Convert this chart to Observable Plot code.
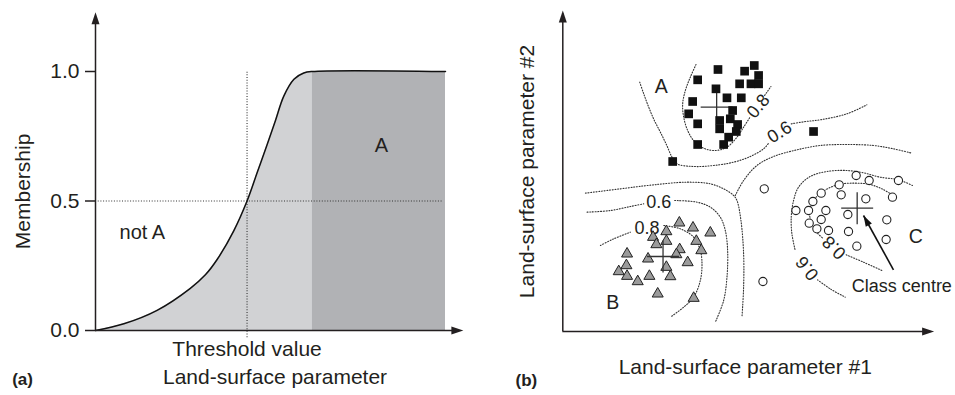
<!DOCTYPE html>
<html><head><meta charset="utf-8">
<script src="https://cdn.jsdelivr.net/npm/d3@7"></script>
<script src="https://cdn.jsdelivr.net/npm/@observablehq/plot@0.6"></script>
<style>
body{margin:0;background:#fff;}
#wrap{display:flex;width:955px;height:395px;overflow:hidden;}
#wrap svg{display:block;flex:none;}
</style></head><body><div id="wrap"></div>
<script>
// ---------- Panel (a): fuzzy membership function ----------
const membershipX = [0, 0.81, 1.76, 2.71, 3.14, 3.48, 3.95, 4.33, 4.62, 4.91, 5.14, 5.38, 5.67, 5.95, 6.19, 10];
const membershipY = [0, 0.026, 0.078, 0.163, 0.215, 0.275, 0.385, 0.5, 0.61, 0.72, 0.81, 0.905, 0.97, 0.994, 1, 1];
const thresholdValue = 4.33;
const coreStart = 6.19;
const paramMax = 10;
const yTicks = [0, 0.5, 1.0];
const axisTipA = {x: 10.51, y: 1.229};

// ---------- Panel (b): classes in attribute space ----------
const classA = [[57.5,79.8],[46.6,78.6],[54.6,78.1],[58.8,76.8],[40.5,75.5],[53.1,74.3],[56.5,74.3],[58.8,74.3],[46.0,72.8],[49.3,70.1],[53.6,70.1],[39.0,69.0],[37.8,65.3],[51.0,66.3],[40.5,62.3],[47.1,63.3],[47.1,60.8],[50.3,63.8],[52.5,62.1],[52.1,60.0],[49.8,58.3],[40.5,56.1],[48.3,56.1],[33.0,51.0],[75.3,60.0]];
const classB = [[35.0,32.6],[39.1,31.1],[44.3,29.6],[31.1,30.0],[27.1,28.3],[31.1,27.1],[28.1,26.1],[40.1,27.1],[41.6,24.3],[35.1,24.6],[34.1,23.1],[19.3,23.3],[25.6,21.8],[19.1,19.8],[16.8,18.0],[19.3,16.6],[31.1,19.3],[37.5,20.7],[22.5,15.0],[26.0,16.6],[32.3,16.5],[28.5,11.3],[39.3,10.0]];
const classC = [[88.1,46.8],[92.0,45.3],[100.8,45.3],[83.0,44.0],[77.6,41.5],[83.6,41.0],[91.0,39.8],[99.0,40.3],[75.1,39.0],[70.0,36.3],[73.8,36.3],[79.0,36.3],[85.6,35.1],[77.6,33.6],[74.0,32.5],[76.3,30.8],[79.8,30.3],[85.8,30.0],[97.3,33.5],[97.1,27.6],[88.3,25.6],[60.5,42.8],[60.1,15.0]];
const classCentres = [{name:"A", x:46.2, y:67.3}, {name:"B", x:30.1, y:22.5}, {name:"C", x:88.4, y:37.0}];
const classLabels = [{text:"A", x:29.6, y:73.5}, {text:"B", x:15.0, y:8.5}, {text:"C", x:106.0, y:28.3}];

// contour segments (membership isolines), split where a label interrupts them
const contourA08a = [[40.0,80.1],[38.3,76.3],[36.8,72.3],[36.0,68.3],[36.3,64.3],[37.5,60.3],[39.3,57.3],[42.3,55.0],[45.8,54.3],[49.3,55.3],[52.3,58.3],[54.3,61.3],[56.1,64.1]];
const contourA08b = [[60.6,70.8],[62.5,73.5]];
const contourA06a = [[23.1,74.8],[24.3,71.3],[25.8,67.3],[27.5,63.3],[29.3,59.8],[31.1,56.1],[32.8,52.3],[34.3,50.3],[39.3,49.5],[45.3,49.8],[51.3,50.8],[56.3,52.5],[60.3,54.8],[61.9,56.6]];
const contourA06b = [[68.6,62.3],[73.0,63.0],[77.3,63.5],[85.3,65.3],[91.3,68.0]];
const boundaryNE = [[51.8,40.8],[54.3,45.3],[58.3,49.8],[63.3,52.5],[70.3,54.5],[77.3,55.8],[85.3,56.1],[93.3,55.8],[99.3,54.8],[104.8,53.5]];
const boundaryWS = [[6.8,41.5],[17.3,42.8],[27.3,44.0],[37.3,44.8],[44.3,44.3],[48.3,42.8],[51.3,40.8],[52.3,39.3],[53.5,33.3],[54.3,23.3],[54.3,13.3],[53.8,4.3]];
const contourB06a = [[7.3,35.8],[14.3,36.3],[20.3,37.5],[24.3,38.3]];
const contourB06b = [[33.6,39.3],[40.3,38.8],[44.3,37.3],[47.3,34.3],[48.8,30.3],[49.5,24.3],[49.3,16.3],[48.3,9.3],[45.8,2.8]];
const contourB08a = [[11.3,25.8],[15.3,27.8],[20.3,29.8]];
const contourB08b = [[30.3,31.8],[35.3,30.8],[39.3,28.3],[41.3,24.3],[41.8,20.3],[41.3,15.3],[39.3,10.3],[36.3,7.3],[32.3,4.3]];
const contourC08a = [[98.8,41.1],[95.8,42.8],[92.3,44.1],[88.3,44.5],[82.8,44.1],[78.3,42.1],[75.3,39.3],[74.1,35.8],[74.8,32.3],[76.5,29.5],[78.3,27.8]];
const contourC08b = [[85.1,23.0],[90.3,20.8],[95.8,18.3]];
const contourC06a = [[105.0,43.8],[100.8,45.5],[95.3,46.3],[90.3,47.6],[85.3,48.3],[79.3,48.0],[74.3,46.5],[70.8,43.3],[69.3,39.3],[68.6,34.3],[68.8,29.3],[69.8,24.3]];
const contourC06b = [[76.5,15.5],[80.3,12.8],[84.8,10.3]];
const contourLabels = [
  {text:"0.8", x:58.7, y:67.6, rotate:-50},
  {text:"0.6", x:65.1, y:59.8, rotate:-32},
  {text:"0.6", x:28.8, y:38.8, rotate:0},
  {text:"0.8", x:25.3, y:31.1, rotate:0},
  {text:"0.8", x:81.5, y:25.2, rotate:-135},
  {text:"0.6", x:73.4, y:19.0, rotate:-128}
];
const centreArrow = {x1:99.3, y1:18.5, x2:90.3, y2:34.8};
const axisTipB = {x: 111.5, y: 96.3};

// ---------- build ----------
const FONT = "'Liberation Sans', Arial, Helvetica, sans-serif";
const INK = "#231f20";
const arrowHead = {draw(ctx) { const L = 12, w = 8; ctx.moveTo(0, 0); ctx.lineTo(w / 2, L); ctx.lineTo(-w / 2, L); ctx.closePath(); }};
const smallHead = {draw(ctx) { const L = 11, w = 7; ctx.moveTo(0, 0); ctx.lineTo(w / 2, L); ctx.lineTo(-w / 2, L); ctx.closePath(); }};
const dotted = {stroke: "#333", strokeWidth: 1.1, strokeDasharray: "1,1.7"};

const curve = membershipX.map((x, i) => ({x, y: membershipY[i]}));
const rising = curve.filter(d => d.x <= coreStart);

const panelA = Plot.plot({
  width: 480, height: 395,
  marginLeft: 95, marginRight: 35, marginTop: 71, marginBottom: 65,
  x: {domain: [0, paramMax], axis: null},
  y: {domain: [0, 1]},
  style: {fontFamily: FONT, color: INK, background: "transparent", overflow: "visible"},
  marks: [
    Plot.areaY(rising, {x: "x", y: "y", fill: "#d1d2d4", curve: "catmull-rom"}),
    Plot.rect([{x1: coreStart, x2: paramMax, y1: 0, y2: 1}], {x1: "x1", x2: "x2", y1: "y1", y2: "y2", fill: "#b1b2b5"}),
    Plot.ruleX([thresholdValue], {y1: -0.028, y2: 1, ...dotted}),
    Plot.ruleY([0.5], {x1: 0, x2: 9.94, ...dotted}),
    Plot.line(curve, {x: "x", y: "y", stroke: "#111", strokeWidth: 1.5, curve: "catmull-rom"}),
    Plot.ruleX([0], {y1: 0, y2: axisTipA.y - 0.03, stroke: INK, strokeWidth: 1.5}),
    Plot.ruleY([0], {x1: 0, x2: axisTipA.x - 0.2, stroke: INK, strokeWidth: 1.5}),
    Plot.dot([axisTipA], {x: 0, y: "y", symbol: arrowHead, fill: INK, stroke: null}),
    Plot.dot([axisTipA], {x: "x", y: 0, symbol: arrowHead, rotate: 90, fill: INK, stroke: null}),
    Plot.axisY(yTicks, {tickFormat: d => d.toFixed(1), tickSize: 10, tickPadding: 6, fontSize: 21, strokeWidth: 1.5, label: null}),
    Plot.text(["Membership"], {x: -2.06, y: 0.537, rotate: -90, fontSize: 21}),
    Plot.text(["Threshold value"], {x: thresholdValue, y: 0, dy: 25, lineAnchor: "bottom", fontSize: 21}),
    Plot.text(["Land-surface parameter"], {x: 5.13, y: 0, dy: 53, lineAnchor: "bottom", fontSize: 21}),
    Plot.text(["not A"], {x: 1.34, y: 0.354, lineAnchor: "bottom", fontSize: 20}),
    Plot.text(["A"], {x: 8.17, y: 0.688, lineAnchor: "bottom", fontSize: 20}),
    Plot.text(["(a)"], {x: -2.38, y: 0, dy: 54, lineAnchor: "bottom", textAnchor: "start", fontSize: 17, fontWeight: "bold"})
  ]
});

const segs = {contourA08a, contourA08b, contourA06a, contourA06b, boundaryNE, boundaryWS, contourB06a, contourB06b, contourB08a, contourB08b, contourC08a, contourC08b, contourC06a, contourC06b};
const contourRows = Object.entries(segs).flatMap(([id, pts]) => pts.map(([x, y]) => ({id, x, y})));
const pt = arr => arr.map(([x, y]) => ({x, y}));
const arm = 4.8;
const headRotate = Math.atan2(centreArrow.x2 - centreArrow.x1, centreArrow.y2 - centreArrow.y1) * 180 / Math.PI;

const panelB = Plot.plot({
  width: 475, height: 395,
  marginLeft: 82.3, marginRight: 59.7, marginTop: 10, marginBottom: 64,
  x: {domain: [0, 100], axis: null},
  y: {domain: [0, 96.3], axis: null},
  style: {fontFamily: FONT, color: INK, background: "transparent", overflow: "visible"},
  marks: [
    Plot.line(contourRows, {x: "x", y: "y", z: "id", curve: "catmull-rom", ...dotted}),
    Plot.text(contourLabels, {x: "x", y: "y", text: "text", rotate: "rotate", fontSize: 18, fill: INK}),
    Plot.dot(pt(classB), {x: "x", y: "y", symbol: "triangle", r: 4.1, fill: "#9b9b9b", stroke: "#222", strokeWidth: 1}),
    Plot.dot(pt(classC), {x: "x", y: "y", symbol: "circle", r: 4.1, fill: "#fff", stroke: "#222", strokeWidth: 1.1}),
    Plot.link(classCentres, {x1: d => d.x - arm, x2: d => d.x + arm, y1: "y", y2: "y", stroke: "#333", strokeWidth: 1.3}),
    Plot.link(classCentres, {x1: "x", x2: "x", y1: d => d.y - arm, y2: d => d.y + arm, stroke: "#333", strokeWidth: 1.3}),
    Plot.dot(pt(classA), {x: "x", y: "y", symbol: "square", r: 4.9, fill: "#111", stroke: null}),
    Plot.link([centreArrow], {x1: "x1", y1: "y1", x2: "x2", y2: "y2", stroke: "#111", strokeWidth: 1.6}),
    Plot.dot([centreArrow], {x: "x2", y: "y2", symbol: smallHead, rotate: headRotate, fill: "#111", stroke: null}),
    Plot.text(["Class centre"], {x: 86.8, y: 13.5, textAnchor: "start", fontSize: 18}),
    Plot.text(classLabels, {x: "x", y: "y", text: "text", fontSize: 19.5}),
    Plot.ruleX([0], {y1: 0, y2: axisTipB.y - 1, stroke: INK, strokeWidth: 1.5}),
    Plot.ruleY([0], {x1: 0, x2: axisTipB.x - 1, stroke: INK, strokeWidth: 1.5}),
    Plot.dot([axisTipB], {x: 0, y: "y", symbol: arrowHead, fill: INK, stroke: null}),
    Plot.dot([axisTipB], {x: "x", y: 0, symbol: arrowHead, rotate: 90, fill: INK, stroke: null}),
    Plot.text(["Land-surface parameter #2"], {x: -10.6, y: 48.0, rotate: -90, fontSize: 21}),
    Plot.text(["Land-surface parameter #1"], {x: 54.8, y: 0, dy: 42, lineAnchor: "bottom", fontSize: 21}),
    Plot.text(["(b)"], {x: -14.2, y: 0, dy: 54, lineAnchor: "bottom", textAnchor: "start", fontSize: 17, fontWeight: "bold"})
  ]
});

const wrap = document.getElementById("wrap");
wrap.appendChild(panelA);
wrap.appendChild(panelB);
</script>
</body></html>
